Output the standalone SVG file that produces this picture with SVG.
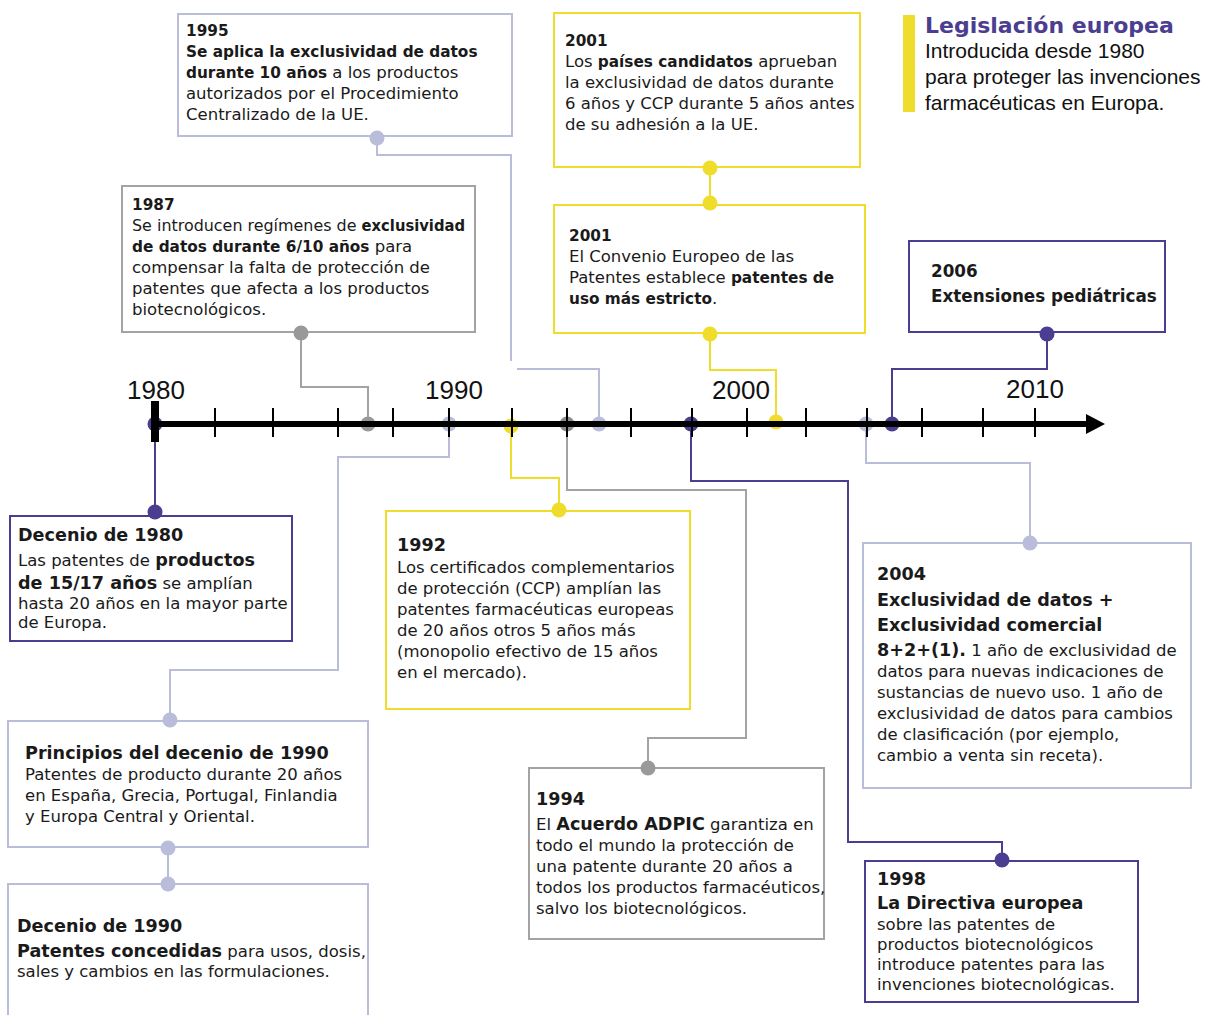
<svg xmlns="http://www.w3.org/2000/svg" width="1207" height="1015" viewBox="0 0 1207 1015">
<defs>
<style>
.t{font-family:"DejaVu Sans",Verdana,sans-serif;font-size:16.5px;fill:#1a1a1a}
.b{font-weight:bold;font-size:15.3px}
.h{font-weight:bold;font-size:17.6px}
.box{fill:#fff;stroke-width:2}
.pu{stroke:#4b3d8f}
.la{stroke:#b9bdd9}
.gr{stroke:#a3a3a3}
.ye{stroke:#f0dc2a}
.cn{fill:none;stroke-width:2}
.dpu{fill:#4b3d8f}
.dla{fill:#b9bdd9}
.dgr{fill:#999}
.dye{fill:#f0dc2a}
.ax{font-family:"Liberation Sans",Arial,sans-serif;font-size:26px;fill:#111;text-anchor:middle}
.tick{stroke:#000;stroke-width:2}
</style>
</defs>
<rect width="1207" height="1015" fill="#fff"/>

<g id="legend">
<rect x="903" y="15" width="12" height="97" fill="#f0dc2a"/>
<text x="925" y="33" style="font-family:'DejaVu Sans',Verdana,sans-serif;font-weight:bold;font-size:22px;fill:#4b3d8f">Legislación europea</text>
<text style="font-family:'Liberation Sans',Arial,sans-serif;font-size:21px;fill:#111"><tspan x="925" y="58">Introducida desde 1980</tspan><tspan x="925" y="84">para proteger las invenciones</tspan><tspan x="925" y="110">farmacéuticas en Europa.</tspan></text>
</g>

<g id="connectors">
<path class="cn pu" d="M155 430 V512"/>
<path class="cn gr" d="M301 333 V387 H368 V424"/>
<path class="cn la" d="M377 138 V155 H511 V361"/>
<path class="cn la" d="M517 369 H599 V424"/>
<path class="cn la" d="M449 424 V457 H338 V670 H170 V720"/>
<path class="cn ye" d="M511 427 V478 H559 V510"/>
<path class="cn gr" d="M567 424 V490 H746 V738 H648 V768"/>
<path class="cn pu" d="M691 424 V481 H848 V842 H1002 V860"/>
<path class="cn ye" d="M776 422 V370 H710 V334"/>
<path class="cn ye" d="M710 168 V203"/>
<path class="cn la" d="M866 424 V463 H1030 V543"/>
<path class="cn pu" d="M892 424 V369 H1047 V334"/>
<path class="cn la" d="M168 848 V884"/>
</g>

<g id="n1995">
<rect class="box la" x="178" y="14" width="334" height="122"/>
<text class="t"><tspan x="186" y="36" class="b">1995</tspan><tspan x="186" y="57" class="b">Se aplica la exclusividad de datos</tspan><tspan x="186" y="78"><tspan class="b">durante 10 años</tspan> a los productos</tspan><tspan x="186" y="99">autorizados por el Procedimiento</tspan><tspan x="186" y="120">Centralizado de la UE.</tspan></text>
</g>

<g id="n1987">
<rect class="box gr" x="122" y="186" width="353" height="146"/>
<text class="t"><tspan x="132" y="210" class="b">1987</tspan></text>
<text class="t" x="132" y="231" textLength="333" lengthAdjust="spacingAndGlyphs">Se introducen regímenes de <tspan class="b">exclusividad</tspan></text>
<text class="t"><tspan x="132" y="252"><tspan class="b">de datos durante 6/10 años</tspan> para</tspan><tspan x="132" y="273">compensar la falta de protección de</tspan><tspan x="132" y="294">patentes que afecta a los productos</tspan><tspan x="132" y="315">biotecnológicos.</tspan></text>
</g>

<g id="n1980s">
<rect class="box pu" x="10" y="516" width="282" height="125"/>
<text class="t"><tspan x="18" y="541" class="h">Decenio de 1980</tspan><tspan x="18" y="566">Las patentes de <tspan class="h">productos</tspan></tspan><tspan x="18" y="589"><tspan class="h">de 15/17 años</tspan> se amplían</tspan><tspan x="18" y="609">hasta 20 años en la mayor parte</tspan><tspan x="18" y="628">de Europa.</tspan></text>
</g>

<g id="n1992">
<rect class="box ye" x="386" y="511" width="304" height="198"/>
<text class="t"><tspan x="397" y="551" class="h">1992</tspan><tspan x="397" y="573">Los certificados complementarios</tspan><tspan x="397" y="594">de protección (CCP) amplían las</tspan><tspan x="397" y="615">patentes farmacéuticas europeas</tspan><tspan x="397" y="636">de 20 años otros 5 años más</tspan><tspan x="397" y="657">(monopolio efectivo de 15 años</tspan><tspan x="397" y="678">en el mercado).</tspan></text>
</g>

<g id="n2001a">
<rect class="box ye" x="554" y="13" width="306" height="154"/>
<text class="t"><tspan x="565" y="46" class="b">2001</tspan><tspan x="565" y="67">Los <tspan class="b">países candidatos</tspan> aprueban</tspan><tspan x="565" y="88">la exclusividad de datos durante</tspan><tspan x="565" y="109">6 años y CCP durante 5 años antes</tspan><tspan x="565" y="130">de su adhesión a la UE.</tspan></text>
</g>

<g id="n2001b">
<rect class="box ye" x="554" y="205" width="311" height="128"/>
<text class="t"><tspan x="569" y="241" class="b">2001</tspan><tspan x="569" y="262">El Convenio Europeo de las</tspan><tspan x="569" y="283">Patentes establece <tspan class="b">patentes de</tspan></tspan><tspan x="569" y="304"><tspan class="b">uso más estricto</tspan>.</tspan></text>
</g>

<g id="n2006">
<rect class="box pu" x="909" y="241" width="256" height="91"/>
<text class="t" style="font-weight:bold;font-size:16.8px"><tspan x="931" y="277">2006</tspan><tspan x="931" y="302">Extensiones pediátricas</tspan></text>
</g>

<g id="n2004">
<rect class="box la" x="863" y="543" width="328" height="245"/>
<text class="t"><tspan x="877" y="580" class="h">2004</tspan><tspan x="877" y="606" class="h">Exclusividad de datos +</tspan><tspan x="877" y="631" class="h">Exclusividad comercial</tspan><tspan x="877" y="656"><tspan class="h">8+2+(1).</tspan> 1 año de exclusividad de</tspan><tspan x="877" y="677">datos para nuevas indicaciones de</tspan><tspan x="877" y="698">sustancias de nuevo uso. 1 año de</tspan><tspan x="877" y="719">exclusividad de datos para cambios</tspan><tspan x="877" y="740">de clasificación (por ejemplo,</tspan><tspan x="877" y="761">cambio a venta sin receta).</tspan></text>
</g>

<g id="n1998">
<rect class="box pu" x="865" y="861" width="273" height="141"/>
<text class="t"><tspan x="877" y="885" class="h">1998</tspan><tspan x="877" y="909" class="h">La Directiva europea</tspan><tspan x="877" y="930">sobre las patentes de</tspan><tspan x="877" y="950">productos biotecnológicos</tspan><tspan x="877" y="970">introduce patentes para las</tspan><tspan x="877" y="990">invenciones biotecnológicas.</tspan></text>
</g>

<g id="n1994">
<rect class="box gr" x="529" y="768" width="295" height="171"/>
<text class="t"><tspan x="536" y="805" class="h">1994</tspan><tspan x="536" y="830">El <tspan class="h">Acuerdo ADPIC</tspan> garantiza en</tspan><tspan x="536" y="851">todo el mundo la protección de</tspan><tspan x="536" y="872">una patente durante 20 años a</tspan><tspan x="536" y="893">todos los productos farmacéuticos,</tspan><tspan x="536" y="914">salvo los biotecnológicos.</tspan></text>
</g>

<g id="n1990early">
<rect class="box la" x="8" y="721" width="360" height="126"/>
<text class="t"><tspan x="25" y="759" class="h">Principios del decenio de 1990</tspan><tspan x="25" y="780">Patentes de producto durante 20 años</tspan><tspan x="25" y="801">en España, Grecia, Portugal, Finlandia</tspan><tspan x="25" y="822">y Europa Central y Oriental.</tspan></text>
</g>

<g id="n1990s">
<rect class="box la" x="8" y="884" width="360" height="150"/>
<text class="t"><tspan x="17" y="932" class="h">Decenio de 1990</tspan><tspan x="17" y="957"><tspan class="h">Patentes concedidas</tspan> para usos, dosis,</tspan><tspan x="17" y="977">sales y cambios en las formulaciones.</tspan></text>
</g>

<g id="dots">
<circle class="dla" cx="377" cy="138" r="7.5"/>
<circle class="dgr" cx="301" cy="333" r="7.5"/>
<circle class="dpu" cx="155" cy="512" r="7.5"/>
<circle class="dla" cx="170" cy="720" r="7.5"/>
<circle class="dla" cx="168" cy="848" r="7.5"/>
<circle class="dla" cx="168" cy="884" r="7.5"/>
<circle class="dye" cx="559" cy="510" r="7.5"/>
<circle class="dgr" cx="648" cy="768" r="7.5"/>
<circle class="dpu" cx="1002" cy="860" r="7.5"/>
<circle class="dla" cx="1030" cy="543" r="7.5"/>
<circle class="dye" cx="710" cy="168" r="7.5"/>
<circle class="dye" cx="710" cy="203" r="7.5"/>
<circle class="dye" cx="710" cy="334" r="7.5"/>
<circle class="dpu" cx="1047" cy="334" r="7.5"/>
<circle class="dpu" cx="155" cy="424" r="7.5"/>
<circle class="dgr" cx="368" cy="424" r="7.5"/>
<circle class="dla" cx="449" cy="424" r="7.5"/>
<circle class="dye" cx="511" cy="426" r="7.5"/>
<circle cx="567" cy="424" r="7.5" fill="#8c8c8c"/>
<circle class="dla" cx="599" cy="424" r="7.5"/>
<circle class="dpu" cx="691" cy="424" r="7.5"/>
<circle class="dye" cx="776" cy="422" r="7.5"/>
<circle class="dla" cx="866" cy="424" r="7.5"/>
<circle class="dpu" cx="892" cy="424" r="7.5"/>
</g>

<g id="axis">
<line x1="155" y1="424" x2="1090" y2="424" stroke="#000" stroke-width="6"/>
<polygon points="1086,414 1105,424 1086,434" fill="#000"/>
<rect x="151" y="401" width="8" height="41" fill="#000"/>
<line class="tick" x1="215" y1="408" x2="215" y2="437"/>
<line class="tick" x1="273" y1="408" x2="273" y2="437"/>
<line class="tick" x1="338" y1="408" x2="338" y2="437"/>
<line class="tick" x1="393" y1="408" x2="393" y2="437"/>
<line class="tick" x1="449" y1="408" x2="449" y2="437"/>
<line class="tick" x1="512" y1="408" x2="512" y2="437"/>
<line class="tick" x1="567" y1="408" x2="567" y2="437"/>
<line class="tick" x1="631" y1="408" x2="631" y2="437"/>
<line class="tick" x1="692" y1="408" x2="692" y2="437"/>
<line class="tick" x1="747" y1="408" x2="747" y2="437"/>
<line class="tick" x1="806" y1="408" x2="806" y2="437"/>
<line class="tick" x1="867" y1="408" x2="867" y2="437"/>
<line class="tick" x1="922" y1="408" x2="922" y2="437"/>
<line class="tick" x1="983" y1="408" x2="983" y2="437"/>
<line class="tick" x1="1035" y1="408" x2="1035" y2="437"/>
<text class="ax" x="156" y="399">1980</text>
<text class="ax" x="454" y="399">1990</text>
<text class="ax" x="741" y="399">2000</text>
<text class="ax" x="1035" y="398">2010</text>
</g>
</svg>
